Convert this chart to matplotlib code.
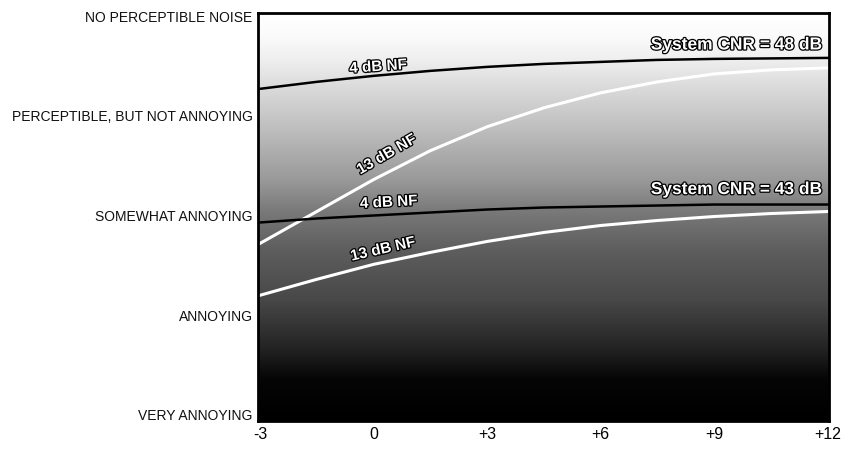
import numpy as np
import matplotlib
matplotlib.use('Agg')
import matplotlib.pyplot as plt
import matplotlib.patheffects as pe
from matplotlib.colors import LinearSegmentedColormap

# carrier level offset (dB)
x = [-3, -1.5, 0, 1.5, 3, 4.5, 6, 7.5, 9, 10.5, 12]

# subjective grade: 1 = very annoying ... 5 = no perceptible noise
cnr48_nf4 = [4.27, 4.34, 4.40, 4.45, 4.49, 4.52, 4.54, 4.56, 4.57, 4.575, 4.58]
cnr48_nf13 = [2.72, 3.04, 3.36, 3.65, 3.89, 4.08, 4.23, 4.34, 4.42, 4.46, 4.48]
cnr43_nf4 = [2.93, 2.97, 3.00, 3.03, 3.06, 3.08, 3.09, 3.10, 3.11, 3.11, 3.11]
cnr43_nf13 = [2.20, 2.36, 2.51, 2.63, 2.74, 2.83, 2.90, 2.95, 2.99, 3.02, 3.04]

grade_levels = [1, 2, 3, 4, 5]
grade_labels = ['VERY ANNOYING', 'ANNOYING', 'SOMEWHAT ANNOYING',
                'PERCEPTIBLE, BUT NOT ANNOYING', 'NO PERCEPTIBLE NOISE']
xticks = [-3, 0, 3, 6, 9, 12]
xtick_labels = ['-3', '0', '+3', '+6', '+9', '+12']

plt.rcParams['font.family'] = ['Liberation Sans', 'DejaVu Sans']

fig = plt.figure(figsize=(8.53, 4.49), dpi=100)
ax = fig.add_axes([0.3025, 0.0624, 0.6695, 0.9086])

xmin, xmax = -3.05, 12.03
ymin, ymax = 0.94, 5.03

# vertical grey gradient background (white at top, black at bottom)
grey = LinearSegmentedColormap.from_list('bg', [
    (0.0, '#000000'), (0.10, '#050505'), (0.174, '#222222'),
    (0.297, '#484848'), (0.42, '#5e5e5e'), (0.517, '#7a7a7a'),
    (0.59, '#999999'), (0.713, '#bdbdbd'), (0.81, '#d8d8d8'),
    (0.885, '#eeeeee'), (0.946, '#fbfbfb'), (1.0, '#ffffff')])
grad = np.linspace(0, 1, 256).reshape(-1, 1)
ax.imshow(grad, cmap=grey, origin='lower', aspect='auto',
          extent=[xmin, xmax, ymin, ymax], zorder=0)

ax.plot(x, cnr48_nf4, color='black', lw=1.8, zorder=2)
ax.plot(x, cnr48_nf13, color='white', lw=2.2, zorder=2)
ax.plot(x, cnr43_nf4, color='black', lw=1.8, zorder=2)
ax.plot(x, cnr43_nf13, color='white', lw=2.2, zorder=2)

outline = [pe.withStroke(linewidth=1.8, foreground='black')]
lab = dict(color='white', fontsize=11, fontweight='bold', ha='center',
           va='center', path_effects=outline, zorder=3)
ax.text(0.12, 4.49, '4 dB NF', rotation=4, **lab)
ax.text(0.35, 3.61, '13 dB NF', rotation=30, **lab)
ax.text(0.4, 3.13, '4 dB NF', rotation=3, **lab)
ax.text(0.25, 2.66, '13 dB NF', rotation=13, **lab)

lab['ha'] = 'right'
lab['fontsize'] = 12.5
ax.text(11.85, 4.71, 'System CNR = 48 dB', **lab)
ax.text(11.85, 3.26, 'System CNR = 43 dB', **lab)

ax.set_xlim(xmin, xmax)
ax.set_ylim(ymin, ymax)
ax.set_xticks(xticks)
ax.set_xticklabels(xtick_labels, fontsize=11.5)
ax.set_yticks(grade_levels)
ax.set_yticklabels(grade_labels, fontsize=10, color='#111111')
ax.tick_params(length=0, pad=4)
for s in ax.spines.values():
    s.set_linewidth(2)

fig.savefig('out.png', dpi=100)
